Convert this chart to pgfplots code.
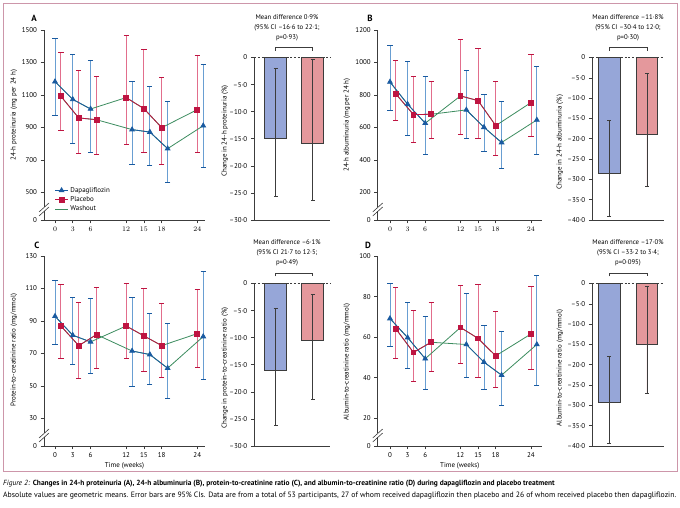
\documentclass[border=0pt]{standalone}
\usepackage{pgfplots}
\pgfplotsset{compat=1.18}
\usepackage{pgfplotstable}
\usepackage{fontspec}
\setmainfont{PT Sans}

\definecolor{framecol}{RGB}{205,150,170}
\definecolor{dapa}{RGB}{25,90,160}
\definecolor{dapaerr}{RGB}{105,158,210}
\definecolor{plac}{RGB}{190,20,65}
\definecolor{placerr}{RGB}{226,110,140}
\definecolor{wash}{RGB}{60,140,95}
\definecolor{barD}{RGB}{150,166,216}
\definecolor{barP}{RGB}{228,152,156}
\definecolor{axcol}{RGB}{60,60,60}

% geometric means with 95% CI; t1 = dapagliflozin first, t2 = placebo first
\pgfplotstableread{
x y lo hi
0 1182 973 1445
3 1073 799 1348
6 1014 745 1313
12 1084 794 1467
15 1016 749 1383
18 899 671 1211
24 1010 745 1342
}\Aone
\pgfplotstableread{
x y lo hi
1 1092 879 1361
4 959 739 1248
7 948 735 1217
13 887 671 1186
16 872 667 1153
19 770 561 1061
25 911 653 1289
}\Atwo
\pgfplotstableread{
x y lo hi
0 880 706 1104
3 743 548 1005
6 626 433 911
12 794 554 1141
15 765 535 1089
18 611 425 882
24 753 542 1050
}\Bone
\pgfplotstableread{
x y lo hi
1 806 640 1015
4 679 507 911
7 681 535 884
13 708 531 948
16 601 453 804
19 507 347 757
25 646 433 974
}\Btwo
\pgfplotstableread{
x y lo hi
0 92.9 75.6 115.2
3 81.2 63.5 104.2
6 77.1 57.8 103.7
12 86.9 67.0 113.0
15 80.8 58.6 110.3
18 74.8 55.1 100.9
24 82.2 61.3 109.7
}\Cone
\pgfplotstableread{
x y lo hi
1 86.9 67.0 112.4
4 74.8 54.5 101.3
7 81.6 60.5 110.5
13 71.5 49.6 104.4
16 69.3 50.6 94.7
19 60.9 42.2 88.4
25 80.4 54.1 120.2
}\Ctwo
\pgfplotstableread{
x y lo hi
0 69.2 55.3 86.7
3 59.8 44.4 76.9
6 49.4 34.4 70.2
12 64.8 47.2 85.7
15 59.4 40.2 86.2
18 50.8 35.4 72.8
24 61.6 44.1 84.8
}\Done
\pgfplotstableread{
x y lo hi
1 64.1 49.5 84.3
4 52.5 38.0 73.3
7 57.5 43.3 77.2
13 56.4 40.2 81.5
16 47.7 34.4 65.6
19 41.3 26.4 63.0
25 56.4 36.1 90.3
}\Dtwo

% change from baseline (%), first row dapagliflozin, second placebo
\pgfplotstableread{
x y lo hi
21.2 -15.0 -25.7 -2.0
58.2 -15.8 -26.4 -0.3
}\barA
\pgfplotstableread{
x y lo hi
16.9 -28.5 -39.2 -15.5
54.6 -19.0 -31.6 -4.0
}\barB
\pgfplotstableread{
x y lo hi
21.2 -16.0 -26.1 -4.5
58.2 -10.5 -21.4 -2.0
}\barC
\pgfplotstableread{
x y lo hi
16.9 -29.3 -39.4 -17.8
54.6 -15.0 -27.1 -0.7
}\barD

\pgfplotsset{
  /pgfplots/table/ci/.style={x=x, y=y,
    y error plus expr=\thisrow{hi}-\thisrow{y},
    y error minus expr=\thisrow{y}-\thisrow{lo}},
  every axis/.append style={scale only axis, clip=false,
    axis line style={draw=axcol, line width=0.6bp},
    tick style={draw=axcol, line width=0.6bp},
    tick align=outside, major tick length=3.5bp,
    font=\fontsize{7}{8}\selectfont},
  errbase/.style={forget plot, draw=none, mark=none,
    /pgfplots/error bars/y dir=both, /pgfplots/error bars/y explicit},
  errD/.style={errbase,
    /pgfplots/error bars/error bar style={draw=dapaerr, line width=0.9bp},
    /pgfplots/error bars/error mark options={rotate=90, draw=dapa, line width=0.9bp, mark size=2.6bp}},
  errP/.style={errbase,
    /pgfplots/error bars/error bar style={draw=placerr, line width=0.9bp},
    /pgfplots/error bars/error mark options={rotate=90, draw=plac, line width=0.9bp, mark size=2.6bp}},
  legD/.style={dapa, line width=0.8bp, mark=triangle*, mark size=2.7bp, mark options={fill=dapa}},
  legP/.style={plac, line width=0.8bp, mark=square*, mark size=2.4bp, mark options={fill=plac}},
  legW/.style={wash, line width=0.8bp, mark=none},
  lineD/.style={forget plot, legD},
  lineP/.style={forget plot, legP},
  lineW/.style={forget plot, legW},
  linax/.style={height=190bp, axis x line*=bottom, axis y line*=left,
    xtick={0,3,6,12,15,18,24}},
  barax/.style={height=162.5bp, axis x line*=bottom, axis y line*=left,
    xtick=\empty, xmin=0, ymax=0},
}

\newcommand\trial[2]{%
  \addplot[errD, skip coords between index={3}{7}] table[ci] {#1};
  \addplot[errP, skip coords between index={0}{3}] table[ci] {#1};
  \addplot[errP, skip coords between index={3}{7}] table[ci] {#2};
  \addplot[errD, skip coords between index={0}{3}] table[ci] {#2};
  \addplot[lineW] table[x=x,y=y] {#1};
  \addplot[lineW] table[x=x,y=y] {#2};
  \addplot[lineD, skip coords between index={3}{7}] table[x=x,y=y] {#1};
  \addplot[lineP, skip coords between index={0}{3}, skip coords between index={6}{7}] table[x=x,y=y] {#1};
  \addplot[lineP, only marks, skip coords between index={0}{6}] table[x=x,y=y] {#1};
  \addplot[lineP, skip coords between index={3}{7}] table[x=x,y=y] {#2};
  \addplot[lineD, skip coords between index={0}{3}, skip coords between index={6}{7}] table[x=x,y=y] {#2};
  \addplot[lineD, only marks, skip coords between index={0}{6}] table[x=x,y=y] {#2};
}
\newcommand\barpair[2]{%
  \addplot[ybar, bar width=#2, bar shift=0pt, fill=barD, draw=axcol, line width=0.6bp,
    forget plot, skip coords between index={1}{2},
    error bars/y dir=both, error bars/y explicit,
    error bars/error bar style={draw=axcol, line width=0.6bp},
    error bars/error mark options={rotate=90, draw=axcol, line width=0.6bp, mark size=2bp}]
    table[ci] {#1};
  \addplot[ybar, bar width=#2, bar shift=0pt, fill=barP, draw=axcol, line width=0.6bp,
    forget plot, skip coords between index={0}{1},
    error bars/y dir=both, error bars/y explicit,
    error bars/error bar style={draw=axcol, line width=0.6bp},
    error bars/error mark options={rotate=90, draw=axcol, line width=0.6bp, mark size=2bp}]
    table[ci] {#1};
  \draw[axcol, line width=0.6bp, dash pattern=on 2bp off 1.6bp] (rel axis cs:0,1) -- (rel axis cs:1,1);
}
\newcommand\brk[2]{% axis break at x=#1, centre height #2
  \fill[white] (#1-1.2,#2-2.2) rectangle (#1+1.2,#2+2.2);
  \draw[axcol, line width=0.6bp] (#1-5,#2-3) -- (#1+5,#2+6);
  \draw[axcol, line width=0.6bp] (#1-5,#2-7) -- (#1+5,#2+2);
}

\begin{document}
\begin{tikzpicture}[x=1bp, y=1bp, font=\fontsize{7}{8}\selectfont]
\useasboundingbox (0,0) rectangle (680,508);
\draw[framecol, line width=0.8bp] (3,37) rectangle (677,505);

% ---- A: 24-h proteinuria
\begin{axis}[linax, at={(44bp,288bp)}, width=161bp, xmin=-1.855, xmax=25.3,
  ymin=331, ymax=1500, ytick={331,500,700,900,1100,1300,1500},
  yticklabels={0,500,700,900,1100,1300,1500}, xticklabel={},
  legend style={at={(axis description cs:0.065,0.03)}, anchor=south west,
    draw=none, fill=none, inner sep=0pt, row sep=-1.2bp,
    font=\fontsize{7}{8}\selectfont},
  legend cell align=left,
  legend image code/.code={\draw[mark repeat=2, mark phase=2, #1]
    plot coordinates {(0bp,0bp) (6.5bp,0bp) (13bp,0bp)};}]
\addlegendimage{legD}\addlegendentry{Dapagliflozin}
\addlegendimage{legP}\addlegendentry{Placebo}
\addlegendimage{legW}\addlegendentry{Washout}
\trial{\Aone}{\Atwo}
\end{axis}
\begin{axis}[barax, at={(254.3bp,288bp)}, width=75.7bp, xmax=75.7, ymin=-30,
  ytick={-30,-25,-20,-15,-10,-5,0},
  yticklabels={–30·0,–25·0,–20·0,–15·0,–10·0,–5·0,0}]
\barpair{\barA}{22.5}
\end{axis}

% ---- B: 24-h albuminuria
\begin{axis}[linax, at={(377.7bp,288bp)}, width=164bp, xmin=-2.09, xmax=25.83,
  ymin=30, ymax=1200, ytick={30,200,400,600,800,1000,1200},
  yticklabels={0,200,400,600,800,1000,1200}, xticklabel={}]
\trial{\Bone}{\Btwo}
\end{axis}
\begin{axis}[barax, at={(592.3bp,288bp)}, width=71.7bp, xmax=71.7, ymin=-40,
  ytick={-40,-35,-30,-25,-20,-15,-10,-5,0},
  yticklabels={–40·0,–35·0,–30·0,–25·0,–20·0,–15·0,–10·0,–5·0,0}]
\barpair{\barB}{21.7}
\end{axis}

% ---- C: protein-to-creatinine ratio
\begin{axis}[linax, at={(44bp,62bp)}, width=161bp, xmin=-1.855, xmax=25.3,
  ymin=13, ymax=130, ytick={13,30,50,70,90,110,130},
  yticklabels={0,30,50,70,90,110,130},
  xticklabels={0,3,6,12,15,18,24},
  xlabel={Time (weeks)},
  xlabel style={at={(axis description cs:0.5,0)}, anchor=center, yshift=-20bp}]
\trial{\Cone}{\Ctwo}
\end{axis}
\begin{axis}[barax, at={(254.3bp,62bp)}, width=75.7bp, xmax=75.7, ymin=-30,
  ytick={-30,-25,-20,-15,-10,-5,0},
  yticklabels={–30·0,–25·0,–20·0,–15·0,–10·0,–5·0,0}]
\barpair{\barC}{22.5}
\end{axis}

% ---- D: albumin-to-creatinine ratio
\begin{axis}[linax, at={(377.7bp,62bp)}, width=164bp, xmin=-2.09, xmax=25.83,
  ymin=6.4, ymax=100, ytick={6.4,20,40,60,80,100},
  yticklabels={0,20,40,60,80,100},
  xticklabels={0,3,6,12,15,18,24},
  xlabel={Time (weeks)},
  xlabel style={at={(axis description cs:0.5,0)}, anchor=center, yshift=-20bp}]
\trial{\Done}{\Dtwo}
\end{axis}
\begin{axis}[barax, at={(592.3bp,62bp)}, width=71.7bp, xmax=71.7, ymin=-40,
  ytick={-40,-35,-30,-25,-20,-15,-10,-5,0},
  yticklabels={–40·0,–35·0,–30·0,–25·0,–20·0,–15·0,–10·0,–5·0,0}]
\barpair{\barD}{21.7}
\end{axis}

% axis breaks
\brk{44}{299}
\brk{377.7}{299}
\brk{44}{73}
\brk{377.7}{73}

% panel letters
\node[font=\fontsize{9}{10}\selectfont\bfseries] at (34,490) {A};
\node[font=\fontsize{9}{10}\selectfont\bfseries] at (370,490) {B};
\node[font=\fontsize{9}{10}\selectfont\bfseries] at (37,263) {C};
\node[font=\fontsize{9}{10}\selectfont\bfseries] at (368,263) {D};

% y labels
\node[rotate=90] at (14,393) {24-h proteinuria (mg per 24 h)};
\node[rotate=90] at (225,377) {Change in 24-h proteinuria (\%)};
\node[rotate=90] at (347,383) {24-h albuminuria (mg per 24 h)};
\node[rotate=90] at (560,366) {Change in 24-h albuminuria (\%)};
\node[rotate=90] at (14,158) {Protein-to-creatinine ratio (mg/mmol)};
\node[rotate=90] at (225,140) {Change in protein-to-creatinine ratio (\%)};
\node[rotate=90] at (347,146) {Albumin-to-creatinine ratio (mg/mmol)};
\node[rotate=90] at (560,140) {Albumin-to-creatinine ratio (mg/mmol)};

% mean differences
\begin{scope}[every node/.style={align=center, inner sep=0pt, font=\fontsize{6.8}{10}\selectfont}]
\node at (287,480) {Mean difference 0·9\%\\(95\% CI –16·6 to 22·1;\\p=0·93)};
\node at (628,480) {Mean difference –11·8\%\\(95\% CI –30·4 to 12·0;\\p=0·30)};
\node at (287,255) {Mean difference –6·1\%\\(95\% CI 21·7 to 12·5;\\p=0·49)};
\node at (628,255) {Mean difference –17·0\%\\(95\% CI –33·2 to 3·4;\\p=0·095)};
\end{scope}
\draw[axcol, line width=0.6bp] (275.5,457) -- (275.5,460.5) -- (312.5,460.5) -- (312.5,457);
\draw[axcol, line width=0.6bp] (609.2,457) -- (609.2,460.5) -- (646.9,460.5) -- (646.9,457);
\draw[axcol, line width=0.6bp] (275.5,231.5) -- (275.5,235) -- (312.5,235) -- (312.5,231.5);
\draw[axcol, line width=0.6bp] (609.2,231.5) -- (609.2,235) -- (646.9,235) -- (646.9,231.5);

% caption
\node[anchor=west, inner sep=0pt, font=\fontsize{7.45}{8}\selectfont] at (3,24) {\textit{Figure 2:} \textbf{Changes in 24-h proteinuria (A), 24-h albuminuria (B), protein-to-creatinine ratio (C), and albumin-to-creatinine ratio (D) during dapagliflozin and placebo treatment}};
\node[anchor=west, inner sep=0pt, font=\fontsize{7.75}{8}\selectfont] at (3,12) {Absolute values are geometric means. Error bars are 95\% CIs. Data are from a total of 53 participants, 27 of whom received dapagliflozin then placebo and 26 of whom received placebo then dapagliflozin.};
\end{tikzpicture}
\end{document}
